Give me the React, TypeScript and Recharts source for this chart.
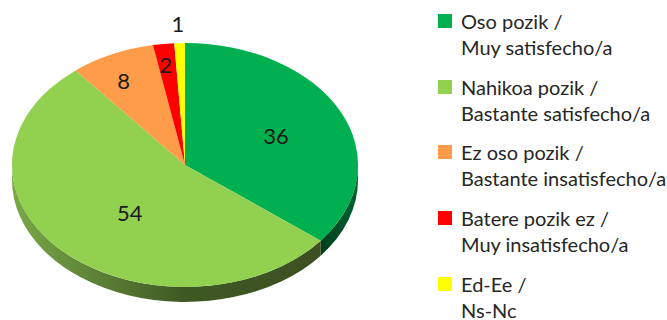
import React from 'react'
import { PieChart, Pie, Legend } from 'recharts'

const labelsEu = ['Oso pozik /', 'Nahikoa pozik /', 'Ez oso pozik /', 'Batere pozik ez /', 'Ed-Ee /']
const labelsEs = ['Muy satisfecho/a', 'Bastante satisfecho/a', 'Bastante insatisfecho/a', 'Muy insatisfecho/a', 'Ns-Nc']
const values = [36, 54, 8, 2, 1]
const colors = ['#00b050', '#92d050', '#ff9c4a', '#ff0000', '#ffff00']
// where each value label sits, as a share of the radius
const labelReachX = [0.585, 0.455, 0.84, 0.9, 1.3]
const labelReachY = [0.56, 0.55, 0.76, 0.83, 1.16]

const data = values.map((value, i) => ({
  name: `${labelsEu[i]}\n${labelsEs[i]}`,
  value,
  fill: colors[i],
}))

const FONT = 'Lato, Carlito, sans-serif'
const SQUASH = 122 / 173 // tilt of the pie
const DEPTH = 15

const rad = (a: number) => (a * Math.PI) / 180

// wall fill for the front edge of each slice
const wallFill = (fill: string) => (fill === colors[0] ? 'url(#wallDark)' : 'url(#wallLight)')

const TiltedSector = (props: any) => {
  const { cx, cy, outerRadius: rx, startAngle, endAngle, fill } = props
  const ry = rx * SQUASH
  const px = (a: number) => cx + rx * Math.cos(rad(a))
  const py = (a: number) => cy - ry * Math.sin(rad(a))
  const large = Math.abs(startAngle - endAngle) > 180 ? 1 : 0
  const top = `M${cx},${cy} L${px(startAngle)},${py(startAngle)} A${rx},${ry} 0 ${large} 1 ${px(endAngle)},${py(endAngle)} Z`

  // only the part below the horizon shows a wall: angles 0 to -180
  const from = Math.min(startAngle, 0)
  const to = Math.max(endAngle, -180)
  let wall = null
  if (from > to) {
    const d =
      `M${px(from)},${py(from)} A${rx},${ry} 0 0 1 ${px(to)},${py(to)} ` +
      `L${px(to)},${py(to) + DEPTH} A${rx},${ry} 0 0 0 ${px(from)},${py(from) + DEPTH} Z`
    wall = <path d={d} fill={wallFill(fill)} />
  }
  return (
    <g>
      {wall}
      <path d={top} fill={fill} />
    </g>
  )
}

const renderLabel = (props: any) => {
  const { cx, cy, outerRadius, midAngle, value, index } = props
  const x = cx + outerRadius * labelReachX[index] * Math.cos(rad(midAngle))
  const y = cy - outerRadius * SQUASH * labelReachY[index] * Math.sin(rad(midAngle))
  return (
    <text x={x} y={y} textAnchor="middle" dominantBaseline="central" fontFamily={FONT} fontSize={22} fill="#1a1a1a">
      {value}
    </text>
  )
}

const renderLegend = ({ payload }: any) => (
  <div style={{ fontFamily: FONT, fontSize: 20, lineHeight: '26px', color: '#262626' }}>
    {(payload ?? []).map((entry: any) => (
      <div key={entry.value} style={{ display: 'flex', height: 65.7 }}>
        <span style={{ width: 14, height: 14, marginTop: 6, marginRight: 9, background: entry.color, flex: 'none' }} />
        <span style={{ whiteSpace: 'pre' }}>{entry.value}</span>
      </div>
    ))}
  </div>
)

export default function App() {
  return (
    <div style={{ position: 'absolute', left: 0, top: 0 }}>
      <PieChart width={667} height={320} margin={{ top: 0, right: 0, bottom: 0, left: 0 }}>
        <defs>
          <linearGradient id="wallLight" gradientUnits="userSpaceOnUse" x1={12} y1={0} x2={320} y2={0}>
            <stop offset="0" stopColor="#7aa847" />
            <stop offset="0.55" stopColor="#3f5a24" />
            <stop offset="1" stopColor="#3d4f22" />
          </linearGradient>
          <linearGradient id="wallDark" gradientUnits="userSpaceOnUse" x1={320} y1={0} x2={358} y2={0}>
            <stop offset="0" stopColor="#003d1e" />
            <stop offset="1" stopColor="#00622f" />
          </linearGradient>
        </defs>
        <Pie
          data={data}
          dataKey="value"
          nameKey="name"
          cx={185}
          cy={165}
          outerRadius={173}
          startAngle={90}
          endAngle={-270}
          stroke="none"
          labelLine={false}
          label={renderLabel}
          shape={TiltedSector}
          isAnimationActive={false}
        />
        <Legend
          layout="vertical"
          content={renderLegend}
          itemSorter={null}
          wrapperStyle={{ left: 438, top: 8, width: 229, height: 310 }}
        />
      </PieChart>
    </div>
  )
}
